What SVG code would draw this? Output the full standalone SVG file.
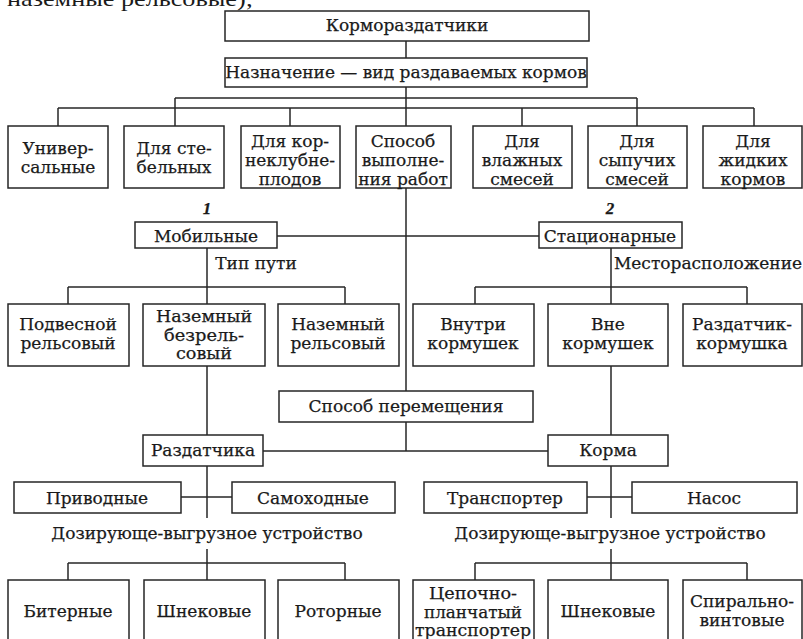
<svg xmlns="http://www.w3.org/2000/svg" width="803" height="639" viewBox="0 0 803 639">
<style>
rect{fill:#fff;stroke:#262626;stroke-width:1.5}
.c line{stroke:#262626;stroke-width:1.5}
text{font-family:"DejaVu Serif","Liberation Serif",serif;font-size:17px;fill:#1a1a1a;stroke:#1a1a1a;stroke-width:0.25;text-anchor:middle}
.t{font-size:15.8px}
.num{font-family:"Liberation Serif",serif;font-style:italic;font-weight:bold;font-size:17px}
.frag{font-family:"Liberation Serif",serif;font-size:22px;text-anchor:start;stroke:none}
</style>
<rect x="0" y="0" width="803" height="639" style="fill:#fff;stroke:none"/>
<text class="frag" x="7" y="6" textLength="246" lengthAdjust="spacingAndGlyphs">наземные рельсовые);</text>
<g class="c">
<line x1="406" y1="41" x2="406" y2="58"/>
<line x1="406" y1="87" x2="406" y2="126"/>
<line x1="175" y1="98" x2="637" y2="98"/>
<line x1="175" y1="98" x2="175" y2="126"/>
<line x1="637" y1="98" x2="637" y2="126"/>
<line x1="58" y1="108" x2="754" y2="108"/>
<line x1="58" y1="108" x2="58" y2="126"/>
<line x1="290" y1="108" x2="290" y2="126"/>
<line x1="522" y1="108" x2="522" y2="126"/>
<line x1="754" y1="108" x2="754" y2="126"/>
<line x1="406" y1="188" x2="406" y2="391"/>
<line x1="277" y1="236" x2="539" y2="236"/>
<line x1="207" y1="248" x2="207" y2="304"/>
<line x1="68" y1="287" x2="345" y2="287"/>
<line x1="68" y1="287" x2="68" y2="304"/>
<line x1="345" y1="287" x2="345" y2="304"/>
<line x1="611" y1="248" x2="611" y2="304"/>
<line x1="475" y1="287" x2="747" y2="287"/>
<line x1="475" y1="287" x2="475" y2="304"/>
<line x1="747" y1="287" x2="747" y2="304"/>
<line x1="207" y1="366" x2="207" y2="435"/>
<line x1="611" y1="366" x2="611" y2="435"/>
<line x1="406" y1="422" x2="406" y2="451"/>
<line x1="263" y1="451" x2="548" y2="451"/>
<line x1="207" y1="466" x2="207" y2="518"/>
<line x1="181" y1="497" x2="232" y2="497"/>
<line x1="611" y1="466" x2="611" y2="518"/>
<line x1="587" y1="497" x2="632" y2="497"/>
<line x1="207" y1="549" x2="207" y2="580"/>
<line x1="68" y1="563" x2="345" y2="563"/>
<line x1="68" y1="563" x2="68" y2="580"/>
<line x1="345" y1="563" x2="345" y2="580"/>
<line x1="611" y1="549" x2="611" y2="580"/>
<line x1="475" y1="563" x2="747" y2="563"/>
<line x1="475" y1="563" x2="475" y2="580"/>
<line x1="747" y1="563" x2="747" y2="580"/>
</g>
<g id="n-root"><rect x="225" y="11" width="364" height="30"/><text x="407" y="31">Кормораздатчики</text></g>
<g id="n-purpose"><rect x="225" y="58" width="362" height="29"/><text x="406" y="78">Назначение — вид раздаваемых кормов</text></g>
<g id="n-univ"><rect x="8" y="126" width="100" height="62"/><text x="58" y="154">Универ-</text><text x="58" y="173">сальные</text></g>
<g id="n-stem"><rect x="124" y="126" width="100" height="62"/><text x="174" y="154">Для сте-</text><text x="174" y="173">бельных</text></g>
<g id="n-root-crops"><rect x="241" y="126" width="99" height="62"/><text x="290" y="147">Для кор-</text><text x="290" y="166">неклубне-</text><text x="290" y="185">плодов</text></g>
<g id="n-method"><rect x="356" y="126" width="95" height="62"/><text x="403" y="147">Способ</text><text x="403" y="166">выполне-</text><text x="403" y="185">ния работ</text></g>
<g id="n-wet"><rect x="473" y="126" width="99" height="62"/><text x="522" y="147">Для</text><text x="522" y="166">влажных</text><text x="522" y="185">смесей</text></g>
<g id="n-bulk"><rect x="588" y="126" width="99" height="62"/><text x="637" y="147">Для</text><text x="637" y="166">сыпучих</text><text x="637" y="185">смесей</text></g>
<g id="n-liquid"><rect x="703" y="126" width="99" height="62"/><text x="753" y="147">Для</text><text x="753" y="166">жидких</text><text x="753" y="185">кормов</text></g>
<g id="n-mobile"><text class="num" x="207" y="214">1</text><rect x="135" y="222" width="142" height="26"/><text x="206" y="242">Мобильные</text></g>
<g id="n-stationary"><text class="num" x="610" y="214">2</text><rect x="539" y="222" width="143" height="26"/><text x="610" y="242">Стационарные</text></g>
<text x="256" y="269">Тип пути</text>
<text x="708" y="269">Месторасположение</text>
<g id="n-hanging"><rect x="8" y="304" width="121" height="62"/><text x="68" y="330">Подвесной</text><text x="68" y="349">рельсовый</text></g>
<g id="n-ground-free"><rect x="143" y="304" width="122" height="62"/><text class="t" x="204" y="322" textLength="96" lengthAdjust="spacingAndGlyphs">Наземный</text><text class="t" x="204" y="340.5" textLength="80" lengthAdjust="spacingAndGlyphs">безрель-</text><text class="t" x="204" y="359" textLength="56" lengthAdjust="spacingAndGlyphs">совый</text></g>
<g id="n-ground-rail"><rect x="278" y="304" width="121" height="62"/><text x="338" y="330">Наземный</text><text x="338" y="349">рельсовый</text></g>
<g id="n-inside"><rect x="413" y="304" width="121" height="62"/><text x="473" y="330">Внутри</text><text x="473" y="349">кормушек</text></g>
<g id="n-outside"><rect x="548" y="304" width="120" height="62"/><text x="608" y="330">Вне</text><text x="608" y="349">кормушек</text></g>
<g id="n-feeder-trough"><rect x="683" y="304" width="119" height="62"/><text x="742" y="330">Раздатчик-</text><text x="742" y="349">кормушка</text></g>
<g id="n-move"><rect x="279" y="391" width="254" height="31"/><text x="406" y="412">Способ перемещения</text></g>
<g id="n-distributor"><rect x="143" y="435" width="120" height="31"/><text x="203" y="456">Раздатчика</text></g>
<g id="n-feed"><rect x="548" y="435" width="120" height="31"/><text x="608" y="456">Корма</text></g>
<g id="n-driven"><rect x="14" y="482" width="167" height="31"/><text x="97" y="504">Приводные</text></g>
<g id="n-self"><rect x="232" y="482" width="163" height="31"/><text x="313" y="504">Самоходные</text></g>
<g id="n-conveyor"><rect x="424" y="482" width="163" height="31"/><text x="505" y="504">Транспортер</text></g>
<g id="n-pump"><rect x="632" y="482" width="165" height="31"/><text x="714" y="504">Насос</text></g>
<text x="207" y="539">Дозирующе-выгрузное устройство</text>
<text x="610" y="539">Дозирующе-выгрузное устройство</text>
<g id="n-beater"><rect x="8" y="580" width="121" height="70"/><text x="68" y="617">Битерные</text></g>
<g id="n-auger-l"><rect x="144" y="580" width="121" height="70"/><text x="204" y="617">Шнековые</text></g>
<g id="n-rotor"><rect x="278" y="580" width="121" height="70"/><text x="338" y="617">Роторные</text></g>
<g id="n-chain"><rect x="413" y="580" width="121" height="70"/><text class="t" x="473" y="599" textLength="88" lengthAdjust="spacingAndGlyphs">Цепочно-</text><text class="t" x="473" y="617.5" textLength="98" lengthAdjust="spacingAndGlyphs">планчатый</text><text class="t" x="473" y="636" textLength="116" lengthAdjust="spacingAndGlyphs">транспортер</text></g>
<g id="n-auger-r"><rect x="548" y="580" width="120" height="70"/><text x="608" y="617">Шнековые</text></g>
<g id="n-spiral"><rect x="683" y="580" width="119" height="70"/><text x="742" y="607">Спирально-</text><text x="742" y="626">винтовые</text></g>
</svg>
